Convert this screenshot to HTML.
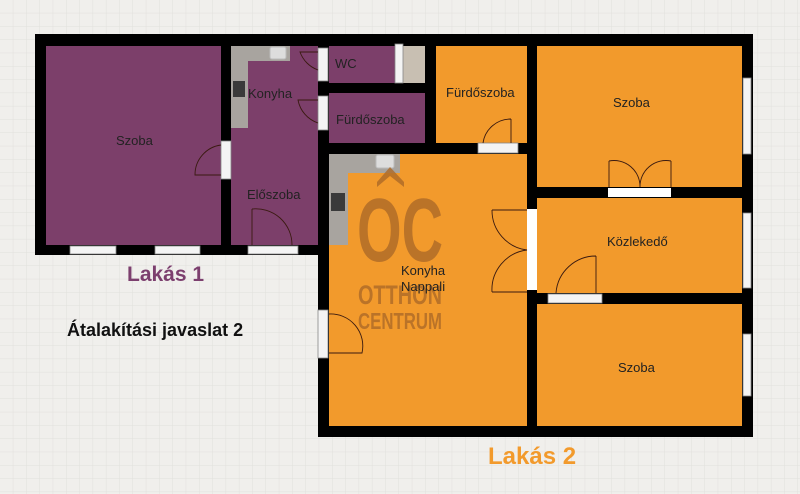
<!DOCTYPE html>
<html><head><meta charset="utf-8"><style>
html,body{margin:0;padding:0;width:800px;height:494px;overflow:hidden;background:#f0efec;}
svg{display:block}
text{font-family:"Liberation Sans",Arial,sans-serif;}
</style></head><body>
<svg width="800" height="494" viewBox="0 0 800 494" xmlns="http://www.w3.org/2000/svg">
<defs>
<pattern id="g" width="13.3" height="13.3" patternUnits="userSpaceOnUse">
<path d="M13.3 0V13.3H0" fill="none" stroke="#e1e0dc" stroke-width="1"/>
</pattern>
</defs>
<rect width="800" height="494" fill="url(#g)"/>
<!-- walls -->
<rect x="35" y="34" width="718" height="12" fill="#000"/>
<rect x="35" y="34" width="11" height="221" fill="#000"/>
<rect x="35" y="245" width="294" height="10" fill="#000"/>
<rect x="221" y="34" width="10" height="221" fill="#000"/>
<rect x="318" y="34" width="11" height="403" fill="#000"/>
<rect x="318" y="426" width="435" height="11" fill="#000"/>
<rect x="742" y="34" width="11" height="403" fill="#000"/>
<rect x="425" y="34" width="11" height="120" fill="#000"/>
<rect x="527" y="34" width="10" height="403" fill="#000"/>
<rect x="318" y="83" width="118" height="10" fill="#000"/>
<rect x="318" y="143" width="219" height="11" fill="#000"/>
<rect x="527" y="187" width="226" height="11" fill="#000"/>
<rect x="527" y="293" width="226" height="11" fill="#000"/>
<!-- purple rooms -->
<g fill="#7c3f6a">
<rect x="46" y="46" width="175" height="199"/>
<rect x="231" y="46" width="87" height="199"/>
<rect x="329" y="46" width="96" height="37"/>
<rect x="329" y="93" width="96" height="50"/>
</g>
<rect x="400" y="46" width="25" height="37" fill="#c8bfb2"/>
<!-- kitchen counter 1 -->
<path d="M231 46H290V61H248V128H231Z" fill="#a8a49f"/>
<rect x="270" y="47" width="16" height="12" rx="2" fill="#ddd" stroke="#bbb"/>
<rect x="233" y="81" width="12" height="16" fill="#3a3a3a"/>
<!-- orange rooms -->
<g fill="#f29a2c">
<rect x="436" y="46" width="91" height="97"/>
<rect x="537" y="46" width="205" height="141"/>
<rect x="329" y="154" width="198" height="272"/>
<rect x="537" y="198" width="205" height="95"/>
<rect x="537" y="304" width="205" height="122"/>
</g>
<path d="M329 154H400V173H348V245H329Z" fill="#a8a49f"/>
<rect x="376" y="155" width="18" height="13" rx="2" fill="#ddd" stroke="#bbb"/>
<rect x="331" y="193" width="14" height="18" fill="#3a3a3a"/>
<!-- watermark -->
<g fill="#ad6a28" opacity="0.8">
<path d="M377 182L390 167L404 182V187L390 176L377 187Z"/>
<text x="357" y="261" font-size="90" font-weight="bold" textLength="86" lengthAdjust="spacingAndGlyphs" font-family="'DejaVu Sans Condensed','Liberation Sans',sans-serif">OC</text>
<text x="358" y="304" font-size="27" font-weight="bold" textLength="84" lengthAdjust="spacingAndGlyphs" font-family="'DejaVu Sans Condensed','Liberation Sans',sans-serif">OTTHON</text>
<text x="358" y="329" font-size="23" font-weight="bold" textLength="84" lengthAdjust="spacingAndGlyphs" font-family="'DejaVu Sans Condensed','Liberation Sans',sans-serif">CENTRUM</text>
</g>
<!-- windows -->
<g fill="#f4f4f4" stroke="#888" stroke-width="0.8">
<rect x="70" y="246" width="46" height="8"/>
<rect x="155" y="246" width="45" height="8"/>
<rect x="248" y="246" width="50" height="8"/>
<rect x="221" y="141" width="10" height="38"/>
<rect x="318" y="48" width="10" height="33"/>
<rect x="318" y="96" width="10" height="34"/>
<rect x="395" y="44" width="8" height="39"/>
<rect x="478" y="143" width="40" height="10"/>
<rect x="608" y="188" width="63" height="9" stroke="none" fill="#fff"/>
<rect x="527" y="209" width="10" height="81" stroke="none" fill="#fff"/>
<rect x="548" y="294" width="54" height="9"/>
<rect x="318" y="310" width="10" height="48"/>
<rect x="743" y="78" width="8" height="76"/>
<rect x="743" y="213" width="8" height="75"/>
<rect x="743" y="334" width="8" height="62"/>
</g>
<!-- door arcs -->
<g fill="none" stroke="#3a1a10" stroke-width="0.9">
<path d="M221 145A30 30 0 0 0 195 175H221"/>
<path d="M252 209V245M252 209A36 36 0 0 1 292 245"/>
<path d="M318 70A30 30 0 0 1 300 52H318"/>
<path d="M318 123A30 30 0 0 1 298 100H318"/>
<path d="M511 143V119M511 119A28 28 0 0 0 483 143"/>
<path d="M609 187V161M609 161A26 26 0 0 1 640 187M671 187V161M671 161A26 26 0 0 0 640 187"/>
<path d="M492 210H527M492 210A40 40 0 0 0 527 250M492 292H527M492 292A40 40 0 0 1 527 250"/>
<path d="M596 293V256M596 256A40 40 0 0 0 556 293"/>
<path d="M329 314A32 32 0 0 1 362 353H329"/>
</g>
<!-- labels -->
<g font-size="13" fill="#222">
<text x="116" y="145">Szoba</text>
<text x="248" y="98">Konyha</text>
<text x="247" y="199">Előszoba</text>
<text x="335" y="68">WC</text>
<text x="336" y="124">Fürdőszoba</text>
<text x="446" y="97">Fürdőszoba</text>
<text x="613" y="107">Szoba</text>
<text x="607" y="246">Közlekedő</text>
<text x="618" y="372">Szoba</text>
<text x="401" y="275">Konyha</text>
<text x="401" y="291">Nappali</text>
</g>
<text x="127" y="281" font-size="21" font-weight="bold" fill="#7c3f6e">Lakás 1</text>
<text x="67" y="336" font-size="18" font-weight="bold" fill="#111">Átalakítási javaslat 2</text>
<text x="488" y="464" font-size="24" font-weight="bold" fill="#f29a2c">Lakás 2</text>
</svg>
</body></html>
